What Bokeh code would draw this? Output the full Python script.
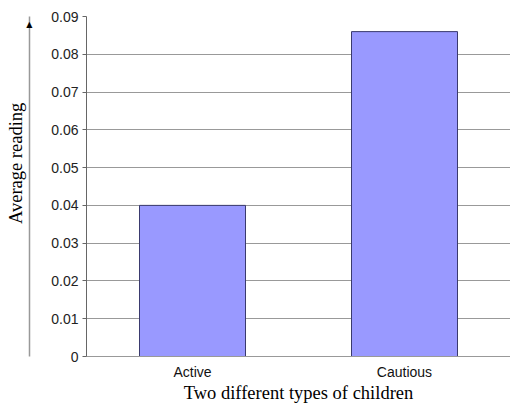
from bokeh.plotting import figure
from bokeh.models import (Range1d, FactorRange, FixedTicker, LinearAxis,
                          CustomJSTickFormatter)
from bokeh.embed import file_html
from bokeh.resources import INLINE

# ---- data ----
categories = ["Active", "Cautious"]
values = [0.040, 0.086]
y_ticks = [0, 0.01, 0.02, 0.03, 0.04, 0.05, 0.06, 0.07, 0.08, 0.09]
y_tick_labels = ["0", "0.01", "0.02", "0.03", "0.04", "0.05", "0.06", "0.07", "0.08", "0.09"]
x_title = "Two different types of children"
y_title = "Average reading"

p = figure(
    width=510, height=405,
    x_range=FactorRange(factors=categories, range_padding=0),
    y_range=Range1d(0, 0.09),
    output_backend="svg", toolbar_location=None,
    min_border_left=86, min_border_right=0, min_border_top=16, min_border_bottom=46,
)
p.outline_line_color = None
p.background_fill_color = "white"
p.border_fill_color = "white"

p.vbar(x=categories, top=values, width=0.5,
       fill_color="#9999FF", line_color="#3A3A6E", line_width=1)

# main y axis (ticks and numbers)
ya = p.yaxis[0]
ya.ticker = FixedTicker(ticks=y_ticks)
ya.major_label_overrides = {t: l for t, l in zip(y_ticks, y_tick_labels)}
ya.axis_line_color = "#666666"
ya.major_tick_line_color = "#666666"
ya.major_tick_out = 4
ya.major_tick_in = 0
ya.minor_tick_line_color = None
ya.major_label_standoff = 4
ya.major_label_text_font = "Liberation Sans"
ya.major_label_text_font_size = "14px"
ya.major_label_text_color = "#222222"
# blank label used only as spacing before the arrow axis
ya.axis_label = "\u00a0"
ya.axis_label_text_font_size = "14px"
ya.axis_label_standoff = 0

# outer axis: its line is the arrow shaft, a triangle label is the head,
# its axis label is the y title
yb = LinearAxis(ticker=FixedTicker(ticks=[0.0879]),
                formatter=CustomJSTickFormatter(code="return '\u25B2'"))
yb.axis_line_color = "#999999"
yb.axis_line_width = 1.5
yb.major_tick_line_color = None
yb.major_tick_out = 0
yb.major_tick_in = 0
yb.minor_tick_line_color = None
yb.major_label_standoff = -3
yb.major_label_text_font = "DejaVu Sans"
yb.major_label_text_font_size = "8px"
yb.major_label_text_color = "#000000"
yb.axis_label = "\u00a0" * 10 + y_title
yb.axis_label_text_font = "Liberation Serif"
yb.axis_label_text_font_size = "18.5px"
yb.axis_label_text_font_style = "normal"
yb.axis_label_text_color = "#000000"
yb.axis_label_standoff = -3
p.add_layout(yb, "left")

# x axis
p.xaxis.axis_line_color = "#999999"
p.xaxis.major_tick_line_color = None
p.xaxis.major_tick_out = 0
p.xaxis.major_label_standoff = 7
p.xaxis.major_label_text_font = "Liberation Sans"
p.xaxis.major_label_text_font_size = "14px"
p.xaxis.major_label_text_color = "#111111"
p.xaxis.axis_label = x_title
p.xaxis.axis_label_text_font = "Liberation Serif"
p.xaxis.axis_label_text_font_size = "18.5px"
p.xaxis.axis_label_text_font_style = "normal"
p.xaxis.axis_label_text_color = "#000000"
p.xaxis.axis_label_standoff = 0

# grid
p.xgrid.grid_line_color = None
p.ygrid.ticker = FixedTicker(ticks=y_ticks)
p.ygrid.grid_line_color = "#999999"
p.ygrid.grid_line_width = 1

open("out.html", "w").write(file_html(p, INLINE))
